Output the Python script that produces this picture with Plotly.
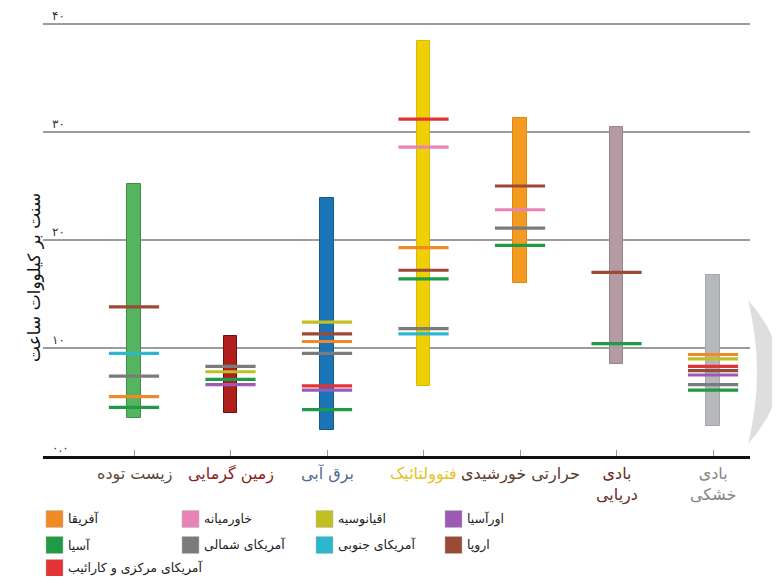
import plotly.graph_objects as go

# ---------------- data ----------------
technologies = ["زیست توده", "زمین گرمایی", "برق آبی", "فتوولتائیک",
                "حرارتی خورشیدی", "بادی<br>دریایی", "بادی<br>خشکی"]
range_low = [3.5, 4.0, 2.4, 6.5, 16.0, 8.5, 2.8]
range_high = [25.2, 11.1, 23.9, 38.4, 31.3, 30.5, 16.8]

regions = ["آفریقا", "آسیا", "آمریکای مرکزی و کارائیب", "خاورمیانه",
           "آمریکای شمالی", "اقیانوسیه", "آمریکای جنوبی", "اورآسیا", "اروپا"]

# regional average cost per technology (region -> value)
marks_biomass = {"اروپا": 13.8, "آمریکای جنوبی": 9.5, "آمریکای شمالی": 7.4,
                 "آفریقا": 5.5, "آسیا": 4.5}
marks_geothermal = {"آمریکای شمالی": 8.3, "اقیانوسیه": 7.8, "آسیا": 7.1,
                    "اورآسیا": 6.6}
marks_hydro = {"اقیانوسیه": 12.4, "اروپا": 11.3, "آفریقا": 10.6,
               "آمریکای شمالی": 9.5, "آمریکای مرکزی و کارائیب": 6.5,
               "اورآسیا": 6.1, "آسیا": 4.3}
marks_pv = {"آمریکای مرکزی و کارائیب": 31.2, "خاورمیانه": 28.6, "آفریقا": 19.3,
            "اروپا": 17.2, "آسیا": 16.4, "آمریکای شمالی": 11.8,
            "آمریکای جنوبی": 11.3}
marks_csp = {"اروپا": 25.0, "خاورمیانه": 22.8, "آمریکای شمالی": 21.1,
             "آسیا": 19.5}
marks_offshore = {"اروپا": 17.0, "آسیا": 10.4}
marks_onshore = {"آفریقا": 9.4, "اقیانوسیه": 9.0, "آمریکای مرکزی و کارائیب": 8.3,
                 "اروپا": 7.9, "اورآسیا": 7.5, "آمریکای شمالی": 6.6, "آسیا": 6.1}
marks = [marks_biomass, marks_geothermal, marks_hydro, marks_pv,
         marks_csp, marks_offshore, marks_onshore]

y_tick_values = [0, 10, 20, 30, 40]
y_tick_labels = ["۰.۰", "۱۰", "۲۰", "۳۰", "۴۰"]
y_title = "سنت بر کیلووات ساعت"

# ---------------- styles ----------------
bar_colors = ["#55b460", "#b01e1e", "#1b74b6", "#efcf05", "#f39a20", "#b39ba3", "#b7b8bc"]
bar_edges = ["#3f8f48", "#6e1010", "#125a90", "#d8bb00", "#e08a10", "#9c8590", "#a5a6aa"]
label_colors = ["#5b4a3e", "#8d1d1d", "#4d6b93", "#e6c21e", "#5c3b2a", "#6e2a20", "#858585"]
region_colors = ["#f08a24", "#1f9a45", "#e23434", "#e883b8", "#7b7b7b",
                 "#c2bf22", "#2cb7cf", "#9b5ab5", "#9c4a38"]
# legend slots (column, row)
legend_slots = [(0, 0), (0, 1), (0, 2), (1, 0), (1, 1), (2, 0), (2, 1), (3, 0), (3, 1)]
legend_col_px = [46, 182, 316, 445]
legend_row_px = [519, 545, 568]

FONT = "DejaVu Sans"
OFF = 8                      # page body margin
W, H = 764, 568
L, R, T, B = 35, 22, 14, 120
PW, PH = W - L - R, H - T - B
Y_TOP = PH / 10.8


def pxx(px):
    return (px - OFF - L) / PW


def pxy(py):
    return (H - B - (py - OFF)) / PH


xs = list(range(len(technologies)))
fig = go.Figure()

fig.add_trace(go.Bar(
    x=xs, y=[h - l for h, l in zip(range_high, range_low)], base=range_low,
    width=0.14, marker=dict(color=bar_colors, line=dict(color=bar_edges, width=1)),
    hoverinfo="skip", showlegend=False))

half = 0.26
for r, col in zip(regions, region_colors):
    lx, ly = [], []
    for i, m in enumerate(marks):
        if r in m:
            lx += [i - half, i + half, None]
            ly += [m[r], m[r], None]
    fig.add_trace(go.Scatter(x=lx, y=ly, mode="lines",
                             line=dict(color=col, width=3.2),
                             hoverinfo="skip", showlegend=False))

annotations = []
# y tick labels (above grid lines, left side)
for v, t in zip(y_tick_values, y_tick_labels):
    annotations.append(dict(x=pxx(51), y=v, xref="paper", yref="y", text=t,
                            showarrow=False, xanchor="left", yanchor="middle",
                            yshift=8, borderpad=0,
                            font=dict(family=FONT, size=12, color="#333")))
# y title
annotations.append(dict(x=pxx(22), y=pxy(278), xref="paper", yref="paper",
                        text=y_title, textangle=-90, showarrow=False,
                        font=dict(family=FONT, size=17, color="#111")))
# category labels
for i, (t, c) in enumerate(zip(technologies, label_colors)):
    annotations.append(dict(x=i, y=pxy(462), xref="x", yref="paper", text=t,
                            showarrow=False, xanchor="center", yanchor="top",
                            font=dict(family=FONT, size=16, color=c)))

shapes = []
# legend
sq = 17
for r, col, (ci, ri) in zip(regions, region_colors, legend_slots):
    x0 = legend_col_px[ci]
    yc = legend_row_px[ri]
    shapes.append(dict(type="rect", xref="paper", yref="paper",
                       x0=pxx(x0), x1=pxx(x0 + sq), y0=pxy(yc + sq / 2), y1=pxy(yc - sq / 2),
                       fillcolor=col, line=dict(color="#bbb", width=0.5)))
    annotations.append(dict(x=pxx(x0 + sq + 3), y=pxy(yc), xref="paper", yref="paper",
                            text=r, showarrow=False, xanchor="left", yanchor="middle",
                            font=dict(family=FONT, size=12.5, color="#222")))


# decorative crescent at right edge
def P(px, py):
    return f"{pxx(px):.4f},{pxy(py):.4f}"


path = (f"M {P(748, 300)} Q {P(812, 372)} {P(748, 444)} "
        f"Q {P(766, 372)} {P(748, 300)} Z")
shapes.append(dict(type="path", xref="paper", yref="paper", path=path,
                   fillcolor="#dedede", line=dict(width=0), layer="below"))

fig.update_layout(
    width=W, height=H, margin=dict(l=L, r=R, t=T, b=B),
    paper_bgcolor="white", plot_bgcolor="white",
    bargap=0, annotations=annotations, shapes=shapes,
    xaxis=dict(range=[-0.943, 6.383], tickvals=xs, showticklabels=False,
               ticks="inside", ticklen=6, tickcolor="#999", tickwidth=1,
               showline=True, linecolor="#111", linewidth=2.5, showgrid=False,
               zeroline=False, fixedrange=True),
    yaxis=dict(range=[0, Y_TOP], tickvals=[10, 20, 30, 40], showticklabels=False,
               showgrid=True, gridcolor="#9c9c9c", gridwidth=1.5, zeroline=False,
               showline=False, fixedrange=True),
)

fig.write_html("out.html")
